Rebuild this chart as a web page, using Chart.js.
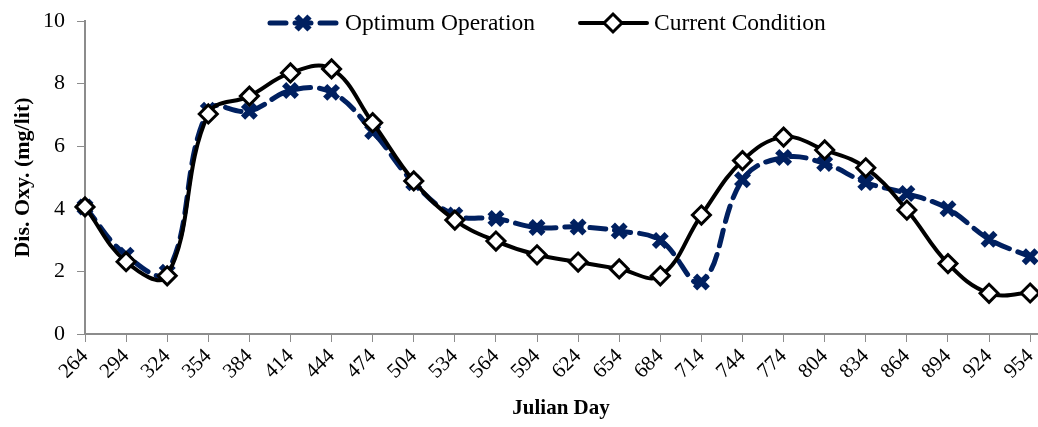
<!DOCTYPE html>
<html lang="en">
  <head>
    <meta charset="UTF-8" />
    <title>Dissolved Oxygen by Julian Day</title>
    <script src="https://cdn.jsdelivr.net/npm/chart.js"></script>
    <style>
      body {
        margin: 0;
        background: #fff;
      }
      #wrap {
        position: relative;
        width: 1038px;
        height: 427px;
      }
    </style>
  </head>
  <body>
    <div id="wrap">
      <canvas id="doChart"></canvas>
    </div>

    <script>
      // Julian day categories
      const days = [264, 294, 324, 354, 384, 414, 444, 474, 504, 534, 564, 594,
        624, 654, 684, 714, 744, 774, 804, 834, 864, 894, 924, 954];
      // Dis. Oxy. (mg/lit)
      const optimum = [4.06, 2.52, 1.97, 7.15, 7.12, 7.78, 7.72, 6.47, 4.83, 3.8, 3.69, 3.4,
        3.42, 3.29, 2.99, 1.66, 4.93, 5.64, 5.45, 4.84, 4.49, 4.0, 3.03, 2.47];
      const current = [4.06, 2.31, 1.86, 7.03, 7.6, 8.34, 8.47, 6.75, 4.89, 3.64, 2.97, 2.53,
        2.3, 2.08, 1.86, 3.8, 5.54, 6.29, 5.88, 5.31, 3.96, 2.25, 1.3, 1.31];
      const yTicks = [0, 2, 4, 6, 8, 10];

      const NAVY = "#002060";
      const AXIS = "#8c8c8c";
      const SERIF = "'Liberation Serif', 'Times New Roman', serif";

      const toPoints = (vals) => days.map((d, i) => ({ x: d, y: vals[i] }));

      // legend drawn by hand so the line + marker look like the original
      const legendPlugin = {
        id: "lineLegend",
        afterDraw(chart) {
          const c = chart.ctx;
          const y = 23;
          c.save();
          c.lineCap = "round";

          // Optimum Operation
          c.strokeStyle = NAVY;
          c.lineWidth = 5;
          c.setLineDash([16, 9]);
          c.beginPath();
          c.moveTo(270, y);
          c.lineTo(338, y);
          c.stroke();
          c.setLineDash([]);
          drawCross(c, 303, y);

          // Current Condition
          c.strokeStyle = "#000";
          c.lineWidth = 4;
          c.beginPath();
          c.moveTo(580, y);
          c.lineTo(647, y);
          c.stroke();
          drawDiamond(c, 613, y);

          c.fillStyle = "#000";
          c.font = "23.5px " + SERIF;
          c.textBaseline = "middle";
          c.textAlign = "left";
          c.fillText("Optimum Operation", 345, y + 1);
          c.fillText("Current Condition", 654, y + 1);
          c.restore();
        },
      };

      function drawCross(c, x, y) {
        const r = 6.5;
        c.save();
        c.strokeStyle = NAVY;
        c.lineWidth = 6;
        c.lineCap = "butt";
        c.beginPath();
        c.moveTo(x - r, y - r);
        c.lineTo(x + r, y + r);
        c.moveTo(x + r, y - r);
        c.lineTo(x - r, y + r);
        c.stroke();
        c.restore();
      }

      function drawDiamond(c, x, y) {
        const r = 9;
        c.save();
        c.fillStyle = "#fff";
        c.strokeStyle = "#000";
        c.lineWidth = 3;
        c.beginPath();
        c.moveTo(x, y - r);
        c.lineTo(x + r, y);
        c.lineTo(x, y + r);
        c.lineTo(x - r, y);
        c.closePath();
        c.fill();
        c.stroke();
        c.restore();
      }

      const ctx = document.getElementById("doChart").getContext("2d");
      const doChart = new Chart(ctx, {
        type: "line",
        data: {
          datasets: [
            {
              label: "Optimum Operation",
              data: toPoints(optimum),
              order: 1,
              clip: false,
              borderColor: NAVY,
              borderWidth: 5,
              borderDash: [16, 9],
              borderCapStyle: "round",
              tension: 0.4,
              fill: false,
              pointStyle: "crossRot",
              pointRadius: 9,
              pointBorderWidth: 6,
              pointBorderColor: NAVY,
              pointBackgroundColor: NAVY,
            },
            {
              label: "Current Condition",
              data: toPoints(current),
              order: 0,
              clip: false,
              borderColor: "#000",
              borderWidth: 4,
              tension: 0.4,
              fill: false,
              pointStyle: "rectRot",
              pointRadius: 9,
              pointBorderWidth: 3,
              pointBorderColor: "#000",
              pointBackgroundColor: "#fff",
            },
          ],
        },
        options: {
          responsive: true,
          maintainAspectRatio: false,
          animation: false,
          layout: {
            autoPadding: false,
            padding: { top: 21, right: 1, left: 0, bottom: 0 },
          },
          plugins: {
            legend: { display: false },
            tooltip: { enabled: false },
          },
          scales: {
            x: {
              type: "linear",
              min: 264,
              max: 959,
              afterBuildTicks: (scale) => {
                scale.ticks = days.map((d) => ({ value: d }));
              },
              afterFit: (scale) => {
                scale.height = 93;
                scale.paddingLeft = 0;
                scale.paddingRight = 0;
              },
              border: { color: AXIS, width: 2 },
              grid: {
                drawOnChartArea: false,
                drawTicks: true,
                tickLength: 8,
                color: AXIS,
              },
              ticks: {
                autoSkip: false,
                minRotation: 45,
                maxRotation: 45,
                padding: 2,
                color: "#000",
                font: { family: SERIF, size: 21 },
                callback: (v) => String(v),
              },
              title: {
                display: true,
                text: "Julian Day",
                color: "#000",
                font: { family: SERIF, size: 21, weight: "bold" },
                padding: { top: 0, bottom: 6 },
              },
            },
            y: {
              min: 0,
              max: 10,
              afterBuildTicks: (scale) => {
                scale.ticks = yTicks.map((v) => ({ value: v }));
              },
              afterFit: (scale) => {
                scale.width = 85;
                scale.paddingTop = 0;
                scale.paddingBottom = 0;
              },
              border: { color: AXIS, width: 2 },
              grid: {
                drawOnChartArea: false,
                drawTicks: true,
                tickLength: 8,
                color: AXIS,
              },
              ticks: {
                padding: 12,
                color: "#000",
                font: { family: SERIF, size: 22 },
              },
              title: {
                display: true,
                text: "Dis. Oxy. (mg/lit)",
                color: "#000",
                font: { family: SERIF, size: 22, weight: "bold" },
                padding: { top: 10, bottom: 0 },
              },
            },
          },
        },
        plugins: [legendPlugin],
      });
    </script>
  </body>
</html>
